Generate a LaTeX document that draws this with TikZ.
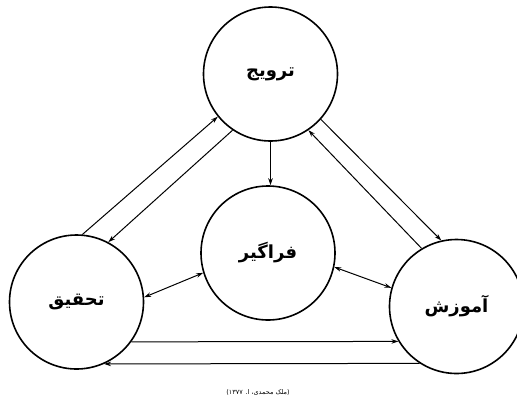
\documentclass[tikz,border=0pt]{standalone}
\usepackage{fontspec}
\usepackage{tikz}
\usetikzlibrary{arrows.meta}
\TeXXeTstate=1
\newfontfamily\arabicfont[Script=Arabic]{DejaVu Sans}

\begin{document}
\begin{tikzpicture}[x=1pt,y=-1pt,>={Stealth[length=7pt,width=4.5pt]}]
    \tikzstyle{part}=[circle,draw,line width=1.6pt,minimum size=134pt,inner sep=0pt,font=\arabicfont\bfseries\fontsize{18}{20}\selectfont]
    \tikzstyle{link}=[line width=1pt]
    \useasboundingbox (0,0) rectangle (517,408);
    \clip (0,0) rectangle (517,408);
    \node[part] (P_tarvij) at (270.5,74) {\beginR ترویج\endR};
    \node[part] (P_faragir) at (268,253) {\beginR فراگیر\endR};
    \node[part] (P_tahghigh) at (76.5,302) {\beginR تحقیق\endR};
    \node[part] (P_amoozesh) at (456.5,306.5) {\beginR آموزش\endR};
    \node[font=\arabicfont\fontsize{6.5}{8}\selectfont] (source) at (258,392) {\beginR(ملک محمدی، ا. ۱۳۷۷)\endR};
    \draw [link,->] (P_tahghigh.85.6) -- (P_tarvij.219.1);
    \draw [link,->] (P_tarvij.236.1) -- (P_tahghigh.62.4);
    \draw [link,->] (P_tarvij.south) -- (P_tarvij.south |- P_faragir.north);
    \draw [link,->] (P_tarvij.318.5) -- (P_amoozesh.103.8);
    \draw [link,->] (P_amoozesh.121.4) -- (P_tarvij.304.8);
    \draw [link,<->] (P_tahghigh.4.4) -- (P_faragir.197.4);
    \draw [link,<->] (P_faragir.348.1) -- (P_amoozesh.164.3);
    \draw [link,->] (P_tahghigh.324.3) -- (P_amoozesh.211.2);
    \draw [link,->] (P_amoozesh.237.7) -- (P_tahghigh.294.2);
  \end{tikzpicture}
\end{document}
